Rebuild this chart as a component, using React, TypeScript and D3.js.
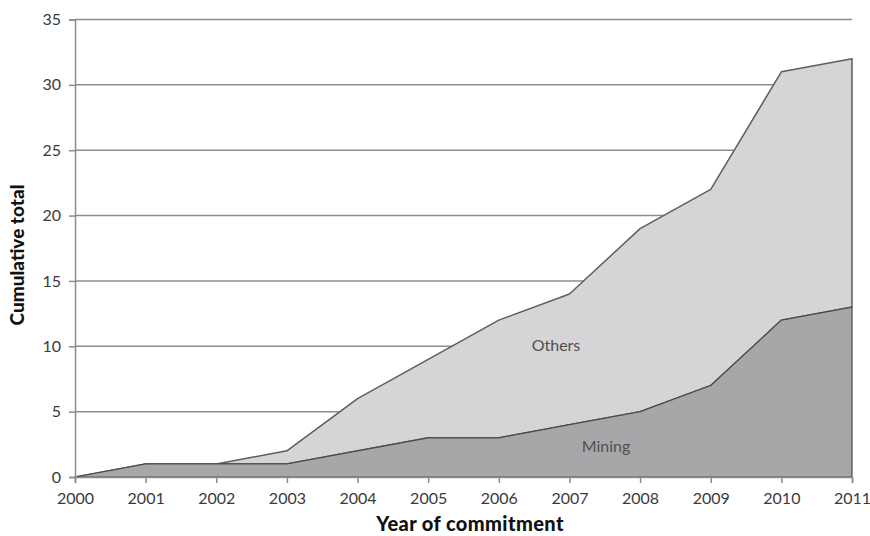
import * as React from 'react';
import * as d3 from 'd3';

const years = [2000, 2001, 2002, 2003, 2004, 2005, 2006, 2007, 2008, 2009, 2010, 2011];
const mining = [0, 1, 1, 1, 2, 3, 3, 4, 5, 7, 12, 13];
const total = [0, 1, 1, 2, 6, 9, 12, 14, 19, 22, 31, 32];
const yTicks = [0, 5, 10, 15, 20, 25, 30, 35];

const W = 870;
const H = 536;
const margin = {left: 75, right: 18, top: 19.5, bottom: 59};
const font = 'Lato, "Open Sans", sans-serif';

const App = () => {
	const ref = React.useRef<SVGSVGElement>(null);

	React.useEffect(() => {
		const svg = d3.select(ref.current);
		svg.html('');

		const x = d3.scaleLinear()
			.domain([2000, 2011])
			.range([margin.left, W - margin.right]);
		const y = d3.scaleLinear()
			.domain([0, 35])
			.range([H - margin.bottom, margin.top]);

		// gridlines
		svg.append('g')
			.selectAll('line')
			.data(yTicks.slice(1))
			.enter().append('line')
			.attr('x1', x(2000))
			.attr('x2', x(2011))
			.attr('y1', d => y(d))
			.attr('y2', d => y(d))
			.attr('stroke', '#8c8c8c')
			.attr('stroke-width', 1.5);

		const rows = years.map((yr, i) => ({yr, m: mining[i], t: total[i]}));

		const others = d3.area<any>()
			.x(d => x(d.yr))
			.y0(d => y(d.m))
			.y1(d => y(d.t));
		const miningArea = d3.area<any>()
			.x(d => x(d.yr))
			.y0(y(0))
			.y1(d => y(d.m));

		svg.append('path')
			.attr('d', others(rows))
			.attr('fill', '#d5d5d7')
			.attr('stroke', '#5e5e5e')
			.attr('stroke-width', 1.5)
			.attr('stroke-linejoin', 'round');
		svg.append('path')
			.attr('d', miningArea(rows))
			.attr('fill', '#a7a7a9')
			.attr('stroke', '#4a4a4a')
			.attr('stroke-width', 1.2)
			.attr('stroke-linejoin', 'round');

		// y axis
		const yAxis = svg.append('g')
			.attr('transform', `translate(${x(2000)},0)`)
			.call(d3.axisLeft(y).tickValues(yTicks).tickSize(6).tickPadding(8));
		yAxis.select('.domain').attr('stroke', '#8c8c8c').attr('stroke-width', 1.5);
		yAxis.selectAll('.tick line').attr('stroke', '#8c8c8c').attr('stroke-width', 1.5);
		yAxis.selectAll('.tick text')
			.attr('font-family', font)
			.attr('font-size', 16)
			.attr('fill', '#3a3a3a');

		// x axis
		const xAxis = svg.append('g')
			.attr('transform', `translate(0,${y(0)})`)
			.call(d3.axisBottom(x).tickValues(years).tickFormat(d3.format('d')).tickSize(6).tickPadding(10));
		xAxis.select('.domain').attr('stroke', '#8c8c8c').attr('stroke-width', 1.5);
		xAxis.selectAll('.tick line').attr('stroke', '#8c8c8c').attr('stroke-width', 1.5);
		xAxis.selectAll('.tick text')
			.attr('font-family', font)
			.attr('font-size', 16)
			.attr('fill', '#3a3a3a');

		// axis titles
		svg.append('text')
			.attr('x', 470)
			.attr('y', 531)
			.attr('text-anchor', 'middle')
			.attr('font-family', font)
			.attr('font-weight', 900)
			.attr('font-size', 20)
			.attr('letter-spacing', 0.4)
			.attr('fill', '#111')
			.text('Year of commitment');
		svg.append('text')
			.attr('transform', `translate(24,255) rotate(-90)`)
			.attr('text-anchor', 'middle')
			.attr('font-family', font)
			.attr('font-weight', 900)
			.attr('font-size', 19)
			.attr('fill', '#111')
			.text('Cumulative total');

		// series labels
		svg.append('text')
			.attr('x', 556)
			.attr('y', 351)
			.attr('text-anchor', 'middle')
			.attr('font-family', font)
			.attr('font-size', 16)
			.attr('fill', '#505050')
			.text('Others');
		svg.append('text')
			.attr('x', 606)
			.attr('y', 452)
			.attr('text-anchor', 'middle')
			.attr('font-family', font)
			.attr('font-size', 16)
			.attr('fill', '#505050')
			.text('Mining');
	}, []);

	return (
		<div style={{position: 'absolute', left: 0, top: 0}}>
			<svg ref={ref} width={W} height={H} style={{display: 'block', background: '#fff'}} />
		</div>
	);
};

export default App;
